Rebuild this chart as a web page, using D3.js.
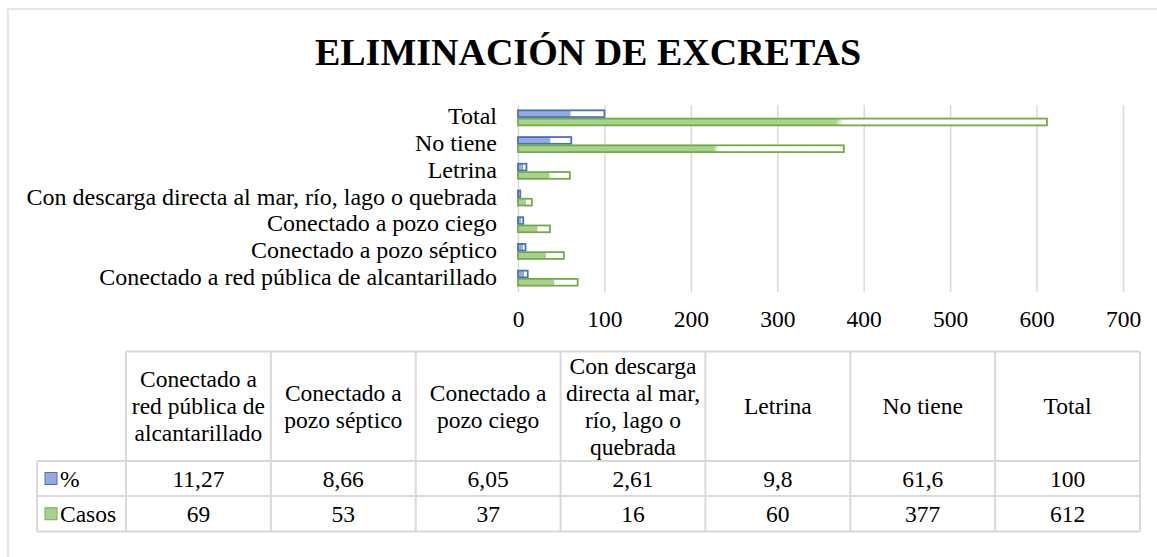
<!DOCTYPE html>
<html>
<head>
<meta charset="utf-8">
<script src="https://cdn.jsdelivr.net/npm/d3@7"></script>
<style>
  body { margin: 0; background: #fff; }
  svg text { font-family: "Liberation Serif", "Times New Roman", serif !important; fill: #000; }
</style>
</head>
<body>
<script>
// data
var categories = ["Conectado a red pública de alcantarillado", "Conectado a pozo séptico",
  "Conectado a pozo ciego", "Con descarga directa al mar, río, lago o quebrada",
  "Letrina", "No tiene", "Total"];
var headerLines = [
  ["Conectado a", "red pública de", "alcantarillado"],
  ["Conectado a", "pozo séptico"],
  ["Conectado a", "pozo ciego"],
  ["Con descarga", "directa al mar,", "río, lago o", "quebrada"],
  ["Letrina"],
  ["No tiene"],
  ["Total"]
];
var seriesNames = ["%", "Casos"];
var pct = [11.27, 8.66, 6.05, 2.61, 9.8, 61.6, 100];
var casos = [69, 53, 37, 16, 60, 377, 612];
var pctLabels = ["11,27", "8,66", "6,05", "2,61", "9,8", "61,6", "100"];
var casosLabels = ["69", "53", "37", "16", "60", "377", "612"];
var xTicks = [0, 100, 200, 300, 400, 500, 600, 700];

var width = 1157, height = 557;
var grid = "#d9d9d9";
var serif = "'Liberation Serif', 'Times New Roman', serif";
var strokeCol = { "%": "#4472c4", "Casos": "#70ad47" };
var fillCol = { "%": "#97aadc", "Casos": "#a9d18e" };

var svg = d3.select("body").append("svg")
  .attr("width", width).attr("height", height)
  .attr("font-family", serif);

// gradient fills (colour then white)
var defs = svg.append("defs");
seriesNames.forEach(function(s, i) {
  var g = defs.append("linearGradient").attr("id", "grad" + i)
    .attr("x1", 0).attr("x2", 1).attr("y1", 0).attr("y2", 0);
  g.append("stop").attr("offset", 0).attr("stop-color", fillCol[s]);
  g.append("stop").attr("offset", 0.6).attr("stop-color", fillCol[s]);
  g.append("stop").attr("offset", 0.615).attr("stop-color", "#fff");
  g.append("stop").attr("offset", 1).attr("stop-color", "#fff");
});

// outer frame
svg.append("rect")
  .attr("x", 8).attr("y", 9).attr("width", 1160).attr("height", 560)
  .attr("fill", "none").attr("stroke", grid).attr("stroke-width", 1.3);

// title
svg.append("text")
  .attr("x", 588).attr("y", 65)
  .attr("text-anchor", "middle")
  .style("font-size", "38px").style("font-weight", "bold")
  .text("ELIMINACIÓN DE EXCRETAS");

// scales
var x = d3.scaleLinear().domain([0, 700]).range([518, 1123]);
var y = d3.scaleBand().domain(categories.slice().reverse())
  .range([105, 292]).paddingInner(0.4).paddingOuter(0.2);
var ySub = d3.scaleBand().domain(seriesNames).range([0, y.bandwidth()]).paddingInner(0.06);

// gridlines
var gridAxis = svg.append("g")
  .attr("transform", "translate(0,105)")
  .call(d3.axisBottom(x).tickValues(xTicks).tickSize(187).tickFormat(""));
gridAxis.select(".domain").remove();
gridAxis.selectAll("line").attr("stroke", grid).attr("stroke-width", 1.5);

// tick labels
var xAxis = svg.append("g")
  .attr("transform", "translate(0,305)")
  .call(d3.axisBottom(x).tickValues(xTicks).tickSize(0).tickPadding(0));
xAxis.attr("font-family", serif);
xAxis.select(".domain").remove();
xAxis.selectAll("text")
  .attr("dy", "22px")
  .style("font-size", "23.5px")
  .attr("fill", "#000");

// category labels
svg.append("g").selectAll("text").data(categories).join("text")
  .attr("x", 497)
  .attr("y", function(d) { return y(d) + y.bandwidth() / 2 + 6; })
  .attr("text-anchor", "end")
  .style("font-size", "24px")
  .text(function(d) { return d; });

// bars
var rows = categories.map(function(c, i) {
  return { cat: c, vals: [{ s: "%", v: pct[i] }, { s: "Casos", v: casos[i] }] };
});
var groups = svg.append("g").selectAll("g").data(rows).join("g")
  .attr("transform", function(d) { return "translate(0," + y(d.cat) + ")"; });
groups.selectAll("rect").data(function(d) { return d.vals; }).join("rect")
  .attr("x", x(0))
  .attr("y", function(d) { return ySub(d.s); })
  .attr("width", function(d) { return x(d.v) - x(0); })
  .attr("height", ySub.bandwidth() - 1)
  .attr("fill", function(d) { return "url(#grad" + seriesNames.indexOf(d.s) + ")"; })
  .attr("stroke", function(d) { return strokeCol[d.s]; })
  .attr("stroke-width", 1.8);

// data table
var tx = d3.scaleBand().domain(d3.range(7)).range([126, 1140]);
var tbl = svg.append("g").attr("stroke", grid).attr("stroke-width", 2);
var rowY = [351.5, 461, 496, 531.5];
tbl.append("line").attr("x1", 126).attr("x2", 1140).attr("y1", rowY[0]).attr("y2", rowY[0]);
rowY.slice(1).forEach(function(yy) {
  tbl.append("line").attr("x1", 37).attr("x2", 1140).attr("y1", yy).attr("y2", yy);
});
d3.range(8).forEach(function(i) {
  var xx = i < 7 ? tx(i) : 1140;
  tbl.append("line").attr("x1", xx).attr("x2", xx).attr("y1", rowY[0]).attr("y2", rowY[3]);
});
tbl.append("line").attr("x1", 37).attr("x2", 37).attr("y1", rowY[1]).attr("y2", rowY[3]);

var tfs = "23.5px";
headerLines.forEach(function(lines, i) {
  var cx = tx(i) + tx.bandwidth() / 2;
  var lh = 27;
  var y0 = 406 - (lines.length - 1) * lh / 2 + 8;
  var t = svg.append("text").attr("text-anchor", "middle").style("font-size", tfs);
  lines.forEach(function(l, j) {
    t.append("tspan").attr("x", cx).attr("y", y0 + j * lh).text(l);
  });
});
[pctLabels, casosLabels].forEach(function(labels, r) {
  var cy = (rowY[r + 1] + rowY[r + 2]) / 2 + 8;
  svg.append("g").selectAll("text").data(labels).join("text")
    .attr("x", function(d, i) { return tx(i) + tx.bandwidth() / 2; })
    .attr("y", cy)
    .attr("text-anchor", "middle")
    .style("font-size", tfs)
    .text(function(d) { return d; });
  svg.append("rect")
    .attr("x", 45).attr("y", cy - 14).attr("width", 12).attr("height", 12)
    .attr("fill", fillCol[seriesNames[r]])
    .attr("stroke", strokeCol[seriesNames[r]]).attr("stroke-width", 1);
  svg.append("text")
    .attr("x", 60).attr("y", cy)
    .style("font-size", tfs)
    .text(seriesNames[r]);
});
</script>
</body>
</html>
